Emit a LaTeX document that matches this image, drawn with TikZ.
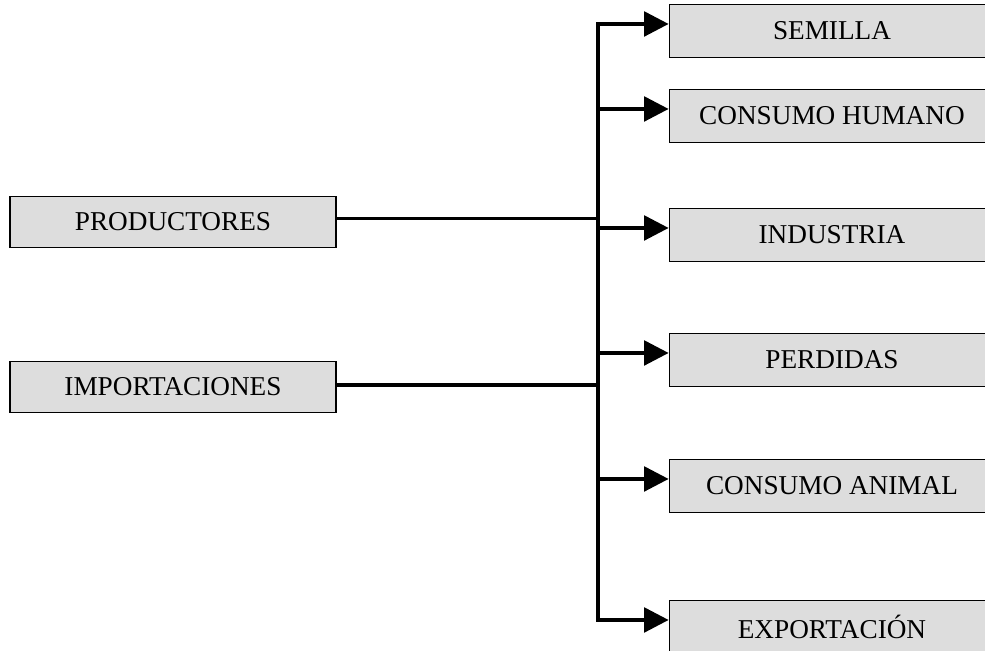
\documentclass[tikz,border=0pt]{standalone}
\usepackage{fontspec}
\setmainfont{Liberation Serif}
\usetikzlibrary{arrows.meta,positioning}

\tikzset{
    caja/.style={draw, fill=gray!27, line width=1pt, rectangle, inner sep=0pt,
        font=\fontsize{15.5}{18}\selectfont},
    cajaizq/.style={caja, minimum width=6.52cm, minimum height=1.02cm},
    cajader/.style={caja, minimum width=6.9cm, minimum height=1.06cm,
        execute at end node={\hspace{0.4cm}}},
    linea/.style={line width=2.1pt, line cap=rect},
    flecha/.style={line width=2.1pt, -{Triangle[length=14pt,width=14pt]}}
}

\begin{document}
\begin{tikzpicture}[x=0.02cm, y=-0.02cm]
    \useasboundingbox (0,0) rectangle (985,650);
    \clip (0,0) rectangle (985,650);

    % Nodes
    \node[cajaizq] (productores) at (173,222) {PRODUCTORES};
    \node[cajaizq] (importaciones) at (173,387) {IMPORTACIONES};

    \node[cajader] (semilla) at (842,31) {SEMILLA};
    \node[cajader] (humano) at (842,116) {CONSUMO HUMANO};
    \node[cajader] (industria) at (842,235) {INDUSTRIA};
    \node[cajader] (perdidas) at (842,360) {PERDIDAS};
    \node[cajader] (animal) at (842,486) {CONSUMO ANIMAL};
    \node[cajader] (exportacion) at (842,627) {EXPORTACIÓN};

    \coordinate (tronco) at (598,0);

    % Lines
    \draw[linea] ([yshift=4pt]semilla.west -| tronco) -- ([yshift=4pt]exportacion.west -| tronco);
    \draw[linea] ([yshift=2pt]productores.east) -- ([yshift=2pt]productores.east -| tronco);
    \draw[linea] ([yshift=1pt]importaciones.east) -- ([yshift=1pt]importaciones.east -| tronco);

    % Arrows
    \foreach \destino in {semilla, humano, industria, perdidas, animal, exportacion}
        \draw[flecha] ([yshift=4pt]\destino.west -| tronco) -- ([yshift=4pt]\destino.west);
\end{tikzpicture}
\end{document}
